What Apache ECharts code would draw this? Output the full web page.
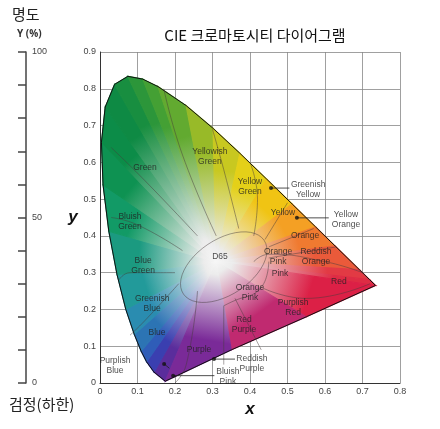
<!DOCTYPE html><html><head><meta charset="utf-8">
<script src="https://cdn.jsdelivr.net/npm/echarts@6/dist/echarts.min.js"></script>
<style>html,body{margin:0;background:#fff}#c{width:440px;height:429px}</style></head><body><div id="c"></div>
<script>
const locusX=[0.1741,0.1440,0.1241,0.1096,0.0913,0.0687,0.0454,0.0235,0.0082,0.0039,0.0139,0.0389,0.0743,0.1142,0.1547,0.2296,0.3016,0.3731,0.4441,0.5125,0.5752,0.6270,0.6915,0.7190,0.7347,0.55,0.35];
const locusY=[0.0050,0.0297,0.0578,0.0868,0.1327,0.2007,0.2950,0.4127,0.5384,0.6548,0.7502,0.8120,0.8338,0.8262,0.8059,0.7543,0.6923,0.6245,0.5547,0.4866,0.4242,0.3725,0.3083,0.2809,0.2653,0.18,0.09];
const locusColor=['#5a2d9c','#3a3fb0','#2f5db8','#2c74b4','#2a8cb0','#229a9a','#1b9a80','#129a66','#0e9252','#0c8c48','#0e8a44','#188e40','#2c963a','#44a034','#62aa30','#98ba28','#c8c820','#e4d018','#f0c414','#f4a024','#f07a30','#ea5a3a','#e23a44','#de2c44','#dc2046','#c02a70','#7a2a98'];
const whiteX=0.31, whiteY=0.33;
const labels=[["Green",0.12,0.585],["Yellowish\nGreen",0.293,0.615],["Yellow\nGreen",0.40,0.533],["Greenish\nYellow",0.555,0.525],["Yellow",0.488,0.462],["Yellow\nOrange",0.656,0.443],["Orange",0.547,0.40],["D65",0.32,0.343],["Orange\nPink",0.475,0.343],["Reddish\nOrange",0.576,0.343],["Pink",0.48,0.296],["Red",0.637,0.275],["Orange\nPink",0.40,0.247],["Purplish\nRed",0.515,0.204],["Red\nPurple",0.384,0.158],["Bluish\nGreen",0.08,0.438],["Blue\nGreen",0.115,0.318],["Greenish\nBlue",0.139,0.215],["Blue",0.152,0.136],["Purple",0.264,0.09],["Reddish\nPurple",0.405,0.052],["Bluish\nPink",0.341,0.016],["Purplish\nBlue",0.04,0.046]];
const dots=[[0.456,0.53],[0.525,0.449],[0.304,0.065],[0.171,0.052],[0.195,0.02]];
const leaders=[[[0.456,0.53],[0.505,0.53]],[[0.525,0.449],[0.61,0.449]],[[0.304,0.065],[0.36,0.065]],[[0.195,0.02],[0.305,0.02]],[[0.171,0.052],[0.185,0.04]]];
const boundaries=[[[0.31,0.40],[0.22,0.62],[0.17,0.80]],[[0.37,0.42],[0.33,0.58],[0.30,0.69]],[[0.41,0.40],[0.42,0.50],[0.40,0.60]],[[0.44,0.39],[0.50,0.49]],[[0.45,0.37],[0.57,0.42]],[[0.45,0.34],[0.63,0.37]],[[0.41,0.33],[0.45,0.35],[0.60,0.33],[0.70,0.30]],[[0.45,0.33],[0.43,0.26],[0.35,0.22],[0.33,0.21]],[[0.43,0.26],[0.55,0.23],[0.72,0.27]],[[0.33,0.21],[0.33,0.05]],[[0.36,0.23],[0.43,0.09]],[[0.26,0.25],[0.23,0.05],[0.20,0.00]],[[0.21,0.27],[0.12,0.17],[0.08,0.13]],[[0.20,0.30],[0.08,0.30],[0.05,0.28]],[[0.22,0.36],[0.10,0.43],[0.03,0.45]],[[0.26,0.40],[0.12,0.55],[0.03,0.64]]];
const ell=[];for(let i=0;i<=48;i++){const t=i/48*2*Math.PI,a=0.13,b=0.075,r=0.6;const ex=a*Math.cos(t),ey=b*Math.sin(t);ell.push([0.33+ex*Math.cos(r)-ey*Math.sin(r),0.315+ex*Math.sin(r)+ey*Math.cos(r)]);}
const chart=echarts.init(document.getElementById('c'));
const lineSeries=boundaries.map(b=>({type:'line',data:b,smooth:true,symbol:'none',silent:true,z:3,lineStyle:{color:'rgba(70,60,60,0.6)',width:0.8}}));
chart.setOption({
 animation:false,
 title:{text:'CIE 크로마토시티 다이어그램',left:250,top:23,textAlign:'center',textStyle:{fontSize:15,fontWeight:'normal',color:'#111',fontFamily:'Noto Sans CJK KR'}},
 graphic:[
  {type:'text',left:12,top:7,style:{text:'명도',fontSize:15,fill:'#222',fontFamily:'Noto Sans CJK KR'}},
  {type:'text',left:17,top:29,style:{text:'Y (%)',fontSize:10,fontWeight:'bold',fill:'#333',fontFamily:'Open Sans'}},
  {type:'text',left:9,top:397,style:{text:'검정(하한)',fontSize:15,fill:'#222',fontFamily:'Noto Sans CJK KR'}}],
 grid:[{left:100,right:40,top:52,bottom:46},{left:26,width:1,top:52,bottom:46}],
 xAxis:[{min:0,max:0.8,interval:0.1,name:'x',nameLocation:'middle',nameGap:14,nameTextStyle:{fontSize:17,fontWeight:'bold',fontStyle:'italic',color:'#111'},axisLine:{lineStyle:{color:'#333'}},axisTick:{show:false},axisLabel:{fontSize:9,color:'#444',margin:4,formatter:v=>v==0?'0':v.toFixed(1)},splitLine:{lineStyle:{color:'#888',width:0.8}}},
  {gridIndex:1,show:false,min:0,max:1}],
 yAxis:[{min:0,max:0.9,interval:0.1,name:'y',nameLocation:'middle',nameRotate:0,nameGap:22,nameTextStyle:{fontSize:17,fontWeight:'bold',fontStyle:'italic',color:'#111'},axisLine:{show:true,lineStyle:{color:'#333'}},axisTick:{show:false},axisLabel:{fontSize:9,color:'#444',margin:4,formatter:v=>v==0?'0':v.toFixed(1)},splitLine:{lineStyle:{color:'#888',width:0.8}}},
  {gridIndex:1,min:0,max:100,interval:10,position:'left',axisLine:{show:true,lineStyle:{color:'#444',width:1.5}},axisTick:{show:true,length:8,lineStyle:{color:'#444',width:1.5}},splitLine:{show:false},axisLabel:{inside:true,margin:6,fontSize:9,color:'#444',formatter:v=>(v==0||v==50||v==100)?String(v):''}}],
 series:[
  {type:'custom',z:1,silent:true,data:[0],renderItem:(p,api)=>{
    const c=api.coord([whiteX,whiteY]);const n=locusX.length;const ch=[];
    const pts=locusX.map((x,i)=>api.coord([x,locusY[i]]));
    for(let i=0;i<n;i++){const a=pts[i],b=pts[(i+1)%n];const m=[(a[0]+b[0])/2,(a[1]+b[1])/2];
      const g=new echarts.graphic.LinearGradient(c[0],c[1],m[0],m[1],[{offset:0,color:'#f6f6f6'},{offset:0.12,color:'#ececec'},{offset:0.75,color:locusColor[i]},{offset:1,color:locusColor[i]}],true);
      ch.push({type:'polygon',shape:{points:[c,a,b]},style:{fill:g,stroke:g,lineWidth:1.2}});}
    ch.push({type:'polygon',shape:{points:pts},style:{fill:'none',stroke:'#111',lineWidth:1}});
    return {type:'group',children:ch};}},
  {type:'line',data:ell,symbol:'none',silent:true,z:3,lineStyle:{color:'rgba(70,60,60,0.6)',width:0.8}},
  ...lineSeries,
  ...leaders.map(l=>({type:'line',data:l,symbol:'none',z:4,lineStyle:{color:'#222',width:0.8}})),
  {type:'scatter',data:dots,symbolSize:4,z:5,itemStyle:{color:'#111'}},
  {type:'scatter',z:6,symbolSize:0,data:labels.map(l=>({value:[l[1],l[2]],name:l[0]})),label:{show:true,position:'inside',formatter:p=>p.name,fontSize:8.5,lineHeight:10,color:'#222',fontFamily:'Liberation Sans'}}
 ]});
</script></body></html>
